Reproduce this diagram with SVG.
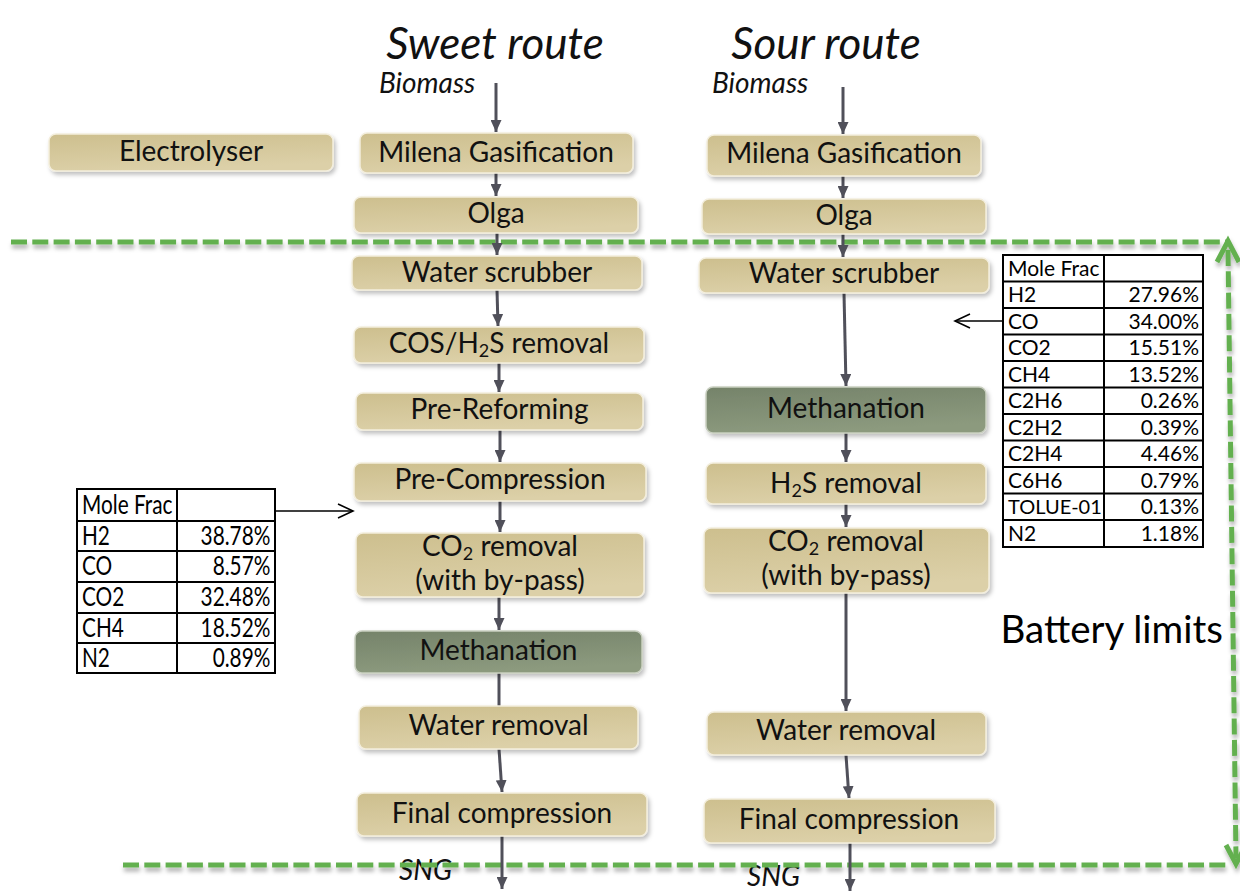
<svg xmlns="http://www.w3.org/2000/svg" width="1240" height="891" viewBox="0 0 1240 891">
<style>
.box{fill:url(#tan);stroke:#f3eedd;stroke-width:1.5;filter:url(#sh)}
.dark{fill:url(#dk);stroke:#c9cfc0;stroke-width:1.5;filter:url(#sh)}
.t{font-family:Lato,"Liberation Sans",sans-serif;font-size:28px;fill:#111;text-anchor:middle}
.it{font-family:Lato,"Liberation Sans",sans-serif;font-style:italic;fill:#111}
.con{stroke:#50505a;stroke-width:3;fill:none}
.tbl{fill:#fff;stroke:#000;stroke-width:2}
.tl{stroke:#000;stroke-width:2}
.tx{font-family:Lato,"Liberation Sans",sans-serif;fill:#000}
.green{stroke:#64b050;stroke-width:5;fill:none;stroke-dasharray:16 5.3}
.ga{stroke:#64b050;stroke-width:5;fill:none}
</style>
<defs>
<linearGradient id="tan" x1="0" y1="0" x2="0.3" y2="1">
<stop offset="0" stop-color="#cdbf8e"/>
<stop offset="1" stop-color="#dcd0a8"/>
</linearGradient>
<linearGradient id="dk" x1="0" y1="0" x2="0.3" y2="1">
<stop offset="0" stop-color="#75836a"/>
<stop offset="1" stop-color="#8c9a7e"/>
</linearGradient>
<filter id="sh" x="-10%" y="-30%" width="120%" height="170%">
<feDropShadow dx="2" dy="3" stdDeviation="2" flood-color="#000" flood-opacity="0.25"/>
</filter>
<filter id="gs" filterUnits="userSpaceOnUse" x="0" y="0" width="1240" height="891">
<feDropShadow dx="1" dy="4" stdDeviation="2" flood-color="#000" flood-opacity="0.3"/>
</filter>
<marker id="ah" markerUnits="userSpaceOnUse" markerWidth="12" markerHeight="11" refX="12" refY="5.5" orient="auto">
<path d="M0,0 L12,5.5 L0,11 z" fill="#50505a"/>
</marker>
<marker id="oh" markerUnits="userSpaceOnUse" markerWidth="18" markerHeight="16" refX="16" refY="8" orient="auto">
<path d="M1,1 L16,8 L1,15" fill="none" stroke="#000" stroke-width="1.6"/>
</marker>
</defs>

<rect width="1240" height="891" fill="#fff"/>

<!-- titles -->
<text class="it" x="495" y="59" font-size="44" text-anchor="middle">Sweet route</text>
<text class="it" x="826" y="59" font-size="44" text-anchor="middle">Sour route</text>
<text class="it" x="379" y="93" font-size="28">Biomass</text>
<text class="it" x="712" y="93" font-size="28">Biomass</text>
<text class="it" x="399" y="880" font-size="28">SNG</text>
<text class="it" x="747" y="886" font-size="28">SNG</text>
<text class="tx" x="1223" y="643" font-size="38.5" text-anchor="end">Battery limits</text>

<!-- battery limits -->
<g id="battery-limits" filter="url(#gs)">
<path class="green" d="M11,242 L1226,242"/>
<path class="green" d="M123,865 L1228,865"/>
<path class="green" d="M1228,250 L1236,858"/>
<path class="ga" d="M1217,262 L1228,241 L1239,262"/>
<path class="ga" d="M1226,845 L1236,864 L1246,845"/>
</g>

<!-- connectors -->
<g id="connectors">
<path class="con" marker-end="url(#ah)" d="M496,83 L496,132"/>
<path class="con" marker-end="url(#ah)" d="M496,173 L496,196"/>
<path class="con" marker-end="url(#ah)" d="M497,233 L497,255"/>
<path class="con" marker-end="url(#ah)" d="M497,290 L498,326"/>
<path class="con" marker-end="url(#ah)" d="M499,363 L499,392"/>
<path class="con" marker-end="url(#ah)" d="M500,430 L500,462"/>
<path class="con" marker-end="url(#ah)" d="M500,501 L500,532"/>
<path class="con" marker-end="url(#ah)" d="M499,597 L499,630"/>
<path class="con" d="M499,673 L499,706"/>
<path class="con" marker-end="url(#ah)" d="M499,749 L502,792"/>
<path class="con" marker-end="url(#ah)" d="M502,836 L502,889"/>

<path class="con" marker-end="url(#ah)" d="M843,87 L843,134"/>
<path class="con" marker-end="url(#ah)" d="M843,176 L843,198"/>
<path class="con" marker-end="url(#ah)" d="M843,234 L843,257"/>
<path class="con" marker-end="url(#ah)" d="M844,293 L846,386"/>
<path class="con" marker-end="url(#ah)" d="M846,433 L846,462"/>
<path class="con" marker-end="url(#ah)" d="M846,504 L846,527"/>
<path class="con" marker-end="url(#ah)" d="M846,593 L846,711"/>
<path class="con" marker-end="url(#ah)" d="M846,755 L849,798"/>
<path class="con" marker-end="url(#ah)" d="M850,843 L850,891"/>

<path d="M275,511 L353,511" stroke="#000" stroke-width="1.6" marker-end="url(#oh)"/>
<path d="M1003,321 L955,321" stroke="#000" stroke-width="1.6" marker-end="url(#oh)"/>
</g>

<!-- nodes -->
<g id="electrolyser"><rect class="box" x="49" y="134" width="284" height="37" rx="7"/><text class="t" x="191" y="161">Electrolyser</text></g>

<g id="sw-milena"><rect class="box" x="360" y="133" width="273" height="40" rx="7"/><text class="t" x="496" y="162">Milena Gasification</text></g>
<g id="sw-olga"><rect class="box" x="354" y="197" width="284" height="36" rx="7"/><text class="t" x="496" y="223">Olga</text></g>
<g id="sw-scrubber"><rect class="box" x="352" y="256" width="290" height="34" rx="7"/><text class="t" x="497" y="282">Water scrubber</text></g>
<g id="sw-cos"><rect class="box" x="354" y="327" width="290" height="36" rx="7"/><text class="t" x="499" y="353">COS/H<tspan font-size="18" baseline-shift="-4">2</tspan>S removal</text></g>
<g id="sw-prereform"><rect class="box" x="356" y="393" width="287" height="37" rx="7"/><text class="t" x="499.5" y="419">Pre-Reforming</text></g>
<g id="sw-precomp"><rect class="box" x="354" y="463" width="292" height="38" rx="7"/><text class="t" x="500" y="489">Pre-Compression</text></g>
<g id="sw-co2"><rect class="box" x="356" y="533" width="288" height="64" rx="7"/><text class="t" x="500" y="556">CO<tspan font-size="18" baseline-shift="-4">2</tspan> removal</text><text class="t" x="500" y="590">(with by-pass)</text></g>
<g id="sw-meth"><rect class="dark" x="355" y="631" width="287" height="42" rx="7"/><text class="t" x="498.5" y="660">Methanation</text></g>
<g id="sw-water"><rect class="box" x="359" y="706" width="279" height="43" rx="7"/><text class="t" x="498.5" y="735">Water removal</text></g>
<g id="sw-final"><rect class="box" x="357" y="793" width="290" height="43" rx="7"/><text class="t" x="502" y="823">Final compression</text></g>

<g id="so-milena"><rect class="box" x="707" y="135" width="274" height="41" rx="7"/><text class="t" x="844" y="163">Milena Gasification</text></g>
<g id="so-olga"><rect class="box" x="702" y="199" width="284" height="35" rx="7"/><text class="t" x="844" y="225">Olga</text></g>
<g id="so-scrubber"><rect class="box" x="699" y="258" width="290" height="35" rx="7"/><text class="t" x="844" y="283">Water scrubber</text></g>
<g id="so-meth"><rect class="dark" x="706" y="387" width="280" height="46" rx="7"/><text class="t" x="846" y="418">Methanation</text></g>
<g id="so-h2s"><rect class="box" x="706" y="463" width="280" height="41" rx="7"/><text class="t" x="846" y="493">H<tspan font-size="18" baseline-shift="-4">2</tspan>S removal</text></g>
<g id="so-co2"><rect class="box" x="704" y="528" width="285" height="65" rx="7"/><text class="t" x="846" y="551">CO<tspan font-size="18" baseline-shift="-4">2</tspan> removal</text><text class="t" x="846" y="585">(with by-pass)</text></g>
<g id="so-water"><rect class="box" x="707" y="712" width="279" height="43" rx="7"/><text class="t" x="846" y="740">Water removal</text></g>
<g id="so-final"><rect class="box" x="704" y="799" width="291" height="44" rx="7"/><text class="t" x="849" y="829">Final compression</text></g>

<!-- left table -->
<g id="table-sweet" class="tx">
<rect class="tbl" x="77" y="489" width="198" height="184"/>
<path class="tl" d="M177,489 V673 M77,521 H275 M77,551 H275 M77,582 H275 M77,613 H275 M77,643 H275"/>
<g transform="matrix(0.8 0 0 1 0 0)" font-size="26">
<text x="102.5" y="514">Mole Frac</text>
<text x="102.5" y="545">H2</text><text x="338" y="545" text-anchor="end">38.78%</text>
<text x="102.5" y="575">CO</text><text x="338" y="575" text-anchor="end">8.57%</text>
<text x="102.5" y="606">CO2</text><text x="338" y="606" text-anchor="end">32.48%</text>
<text x="102.5" y="637">CH4</text><text x="338" y="637" text-anchor="end">18.52%</text>
<text x="102.5" y="667">N2</text><text x="338" y="667" text-anchor="end">0.89%</text>
</g>
</g>

<!-- right table -->
<g id="table-sour" class="tx" font-size="21">
<rect class="tbl" x="1003" y="255" width="200" height="292"/>
<path class="tl" d="M1104,255 V547 M1003,281.5 H1203 M1003,308 H1203 M1003,334.5 H1203 M1003,361 H1203 M1003,387.5 H1203 M1003,414 H1203 M1003,440.5 H1203 M1003,467 H1203 M1003,493.5 H1203 M1003,520 H1203"/>
<text x="1008" y="276">Mole Frac</text>
<text x="1008" y="302">H2</text><text x="1199" y="302" text-anchor="end">27.96%</text>
<text x="1008" y="329">CO</text><text x="1199" y="329" text-anchor="end">34.00%</text>
<text x="1008" y="355">CO2</text><text x="1199" y="355" text-anchor="end">15.51%</text>
<text x="1008" y="382">CH4</text><text x="1199" y="382" text-anchor="end">13.52%</text>
<text x="1008" y="408">C2H6</text><text x="1199" y="408" text-anchor="end">0.26%</text>
<text x="1008" y="435">C2H2</text><text x="1199" y="435" text-anchor="end">0.39%</text>
<text x="1008" y="461">C2H4</text><text x="1199" y="461" text-anchor="end">4.46%</text>
<text x="1008" y="488">C6H6</text><text x="1199" y="488" text-anchor="end">0.79%</text>
<text x="1008" y="514" font-size="20">TOLUE-01</text><text x="1199" y="514" text-anchor="end">0.13%</text>
<text x="1008" y="541">N2</text><text x="1199" y="541" text-anchor="end">1.18%</text>
</g>
</svg>
